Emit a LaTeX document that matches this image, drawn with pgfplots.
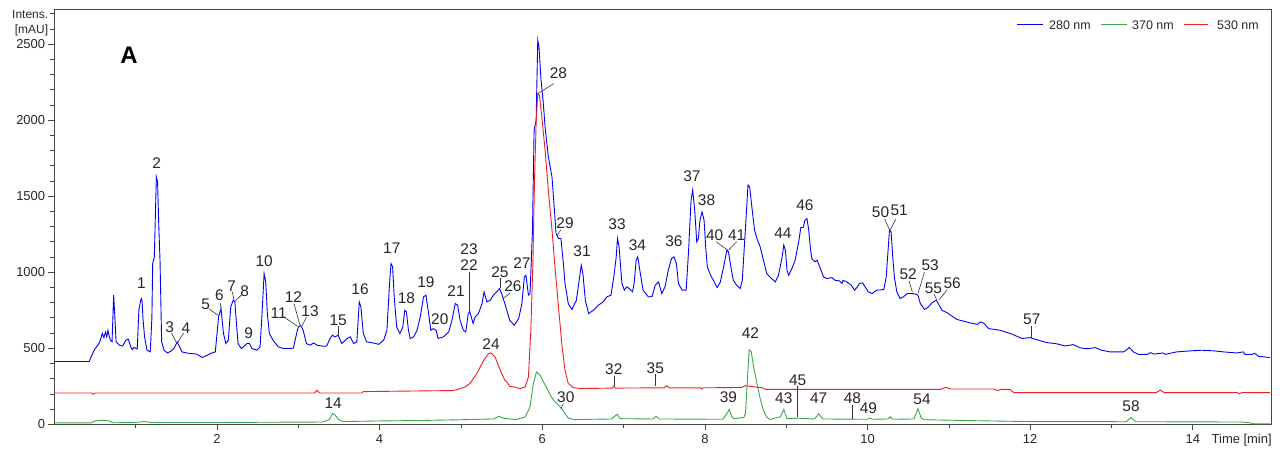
\documentclass[border=0pt]{standalone}
\usepackage{fontspec}
\setmainfont{Liberation Sans}
\usepackage{pgfplots}
\pgfplotsset{compat=1.18}
\definecolor{cblue}{RGB}{0,0,255}
\definecolor{cgreen}{RGB}{56,168,72}
\definecolor{cred}{RGB}{240,30,30}
\definecolor{framecol}{RGB}{70,70,70}
\newcommand{\pkfont}{\fontsize{15.5}{15.5}\selectfont}
\newcommand{\pk}[3]{\node[font=\pkfont, inner sep=0pt, text=black!85] at (axis cs:#1,#2) {#3};}
\newcommand{\ld}[4]{\draw[black!80, line width=0.6bp] (axis cs:#1,#2) -- (axis cs:#3,#4);}
\begin{document}
\begin{tikzpicture}
\begin{axis}[
  scale only axis, width=1217.4bp, height=415bp,
  xmin=0, xmax=14.97, ymin=0, ymax=2729,
  axis line style={framecol, line width=0.8bp},
  xtick={2,4,...,14}, minor xtick={1,3,...,13},
  ytick={0,500,...,2500}, minor ytick={100,200,...,2700},
  tick align=outside, xtick pos=lower, ytick pos=left,
  major tick length=6bp, minor tick length=4bp,
  tick style={framecol, line width=0.7bp},
  /pgf/number format/assume math mode=true,
  /pgf/number format/1000 sep={},
  ticklabel style={font=\fontsize{13}{13}\selectfont, text=black!85},
  xticklabel style={inner sep=0pt, anchor=north, yshift=-4bp},
  yticklabel style={inner sep=0pt, anchor=east, xshift=-3bp},
  clip=false,
]
\addplot[draw=cblue, line width=0.9bp] coordinates {
(0,413) (0.43,413) (0.45,440) (0.49,487) (0.52,510) (0.55,531) (0.57,560) (0.59,597) (0.61,570) (0.63,607) (0.645,575) (0.66,618) (0.675,580) (0.69,553) (0.71,542) (0.73,849) (0.745,700) (0.76,542) (0.80,520) (0.84,515) (0.88,553) (0.91,560) (0.94,509) (0.96,491) (0.98,505) (1.00,500) (1.02,495) (1.04,750) (1.06,810) (1.07,827) (1.08,810) (1.09,700) (1.11,574) (1.14,487) (1.18,476) (1.20,700) (1.21,1057) (1.23,1100) (1.255,1627) (1.27,1594) (1.285,1300) (1.30,1079) (1.32,542) (1.35,487) (1.39,469) (1.43,480) (1.47,498) (1.505,535) (1.51,542) (1.54,510) (1.57,476) (1.62,470) (1.68,465) (1.75,462) (1.82,439) (1.88,454) (1.92,466) (1.98,476) (2.02,706) (2.05,761) (2.08,597) (2.11,531) (2.14,553) (2.17,772) (2.20,816) (2.22,805) (2.24,663) (2.26,531) (2.30,498) (2.37,531) (2.40,531) (2.43,498) (2.49,487) (2.53,509) (2.55,684) (2.58,991) (2.60,936) (2.62,728) (2.645,597) (2.69,553) (2.755,509) (2.82,498) (2.94,500) (2.97,575) (3.00,640) (3.03,651) (3.06,618) (3.10,531) (3.145,520) (3.19,535) (3.23,520) (3.31,513) (3.35,515) (3.39,564) (3.42,586) (3.45,575) (3.49,586) (3.535,531) (3.60,564) (3.64,575) (3.68,531) (3.72,542) (3.75,805) (3.77,772) (3.80,597) (3.84,542) (3.92,535) (3.99,526) (4.05,553) (4.09,618) (4.12,904) (4.14,1057) (4.16,1035) (4.18,838) (4.21,640) (4.25,597) (4.285,640) (4.31,750) (4.33,739) (4.355,618) (4.375,564) (4.42,575) (4.46,618) (4.50,706) (4.54,838) (4.57,849) (4.60,739) (4.63,618) (4.66,629) (4.695,618) (4.72,564) (4.785,575) (4.85,607) (4.89,684) (4.93,794) (4.96,783) (4.99,684) (5.03,618) (5.06,607) (5.09,728) (5.11,739) (5.15,663) (5.175,706) (5.215,728) (5.26,794) (5.285,871) (5.32,805) (5.36,816) (5.40,849) (5.44,871) (5.475,893) (5.50,860) (5.54,794) (5.60,684) (5.655,651) (5.71,695) (5.75,794) (5.78,969) (5.80,980) (5.83,849) (5.85,860) (5.88,1276) (5.90,1934) (5.925,2000) (5.945,2527) (5.96,2483) (5.985,2264) (6.01,2132) (6.035,1956) (6.075,1759) (6.12,1627) (6.15,1408) (6.17,1255) (6.20,1222) (6.23,1222) (6.26,1057) (6.28,926) (6.32,794) (6.365,755) (6.42,816) (6.46,969) (6.48,1046) (6.50,991) (6.53,816) (6.57,728) (6.63,750) (6.69,783) (6.75,805) (6.795,838) (6.845,849) (6.88,969) (6.91,1101) (6.925,1222) (6.945,1167) (6.98,926) (7.01,882) (7.04,904) (7.07,893) (7.11,871) (7.13,926) (7.155,1079) (7.175,1101) (7.20,1013) (7.24,882) (7.305,838) (7.35,840) (7.39,915) (7.43,936) (7.47,860) (7.51,904) (7.55,1013) (7.59,1090) (7.62,1101) (7.65,1057) (7.675,926) (7.72,882) (7.77,882) (7.80,1145) (7.83,1474) (7.85,1540) (7.875,1408) (7.90,1200) (7.92,1222) (7.94,1342) (7.965,1397) (7.99,1342) (8.01,1167) (8.03,1035) (8.07,980) (8.105,947) (8.15,899) (8.19,936) (8.23,1035) (8.27,1145) (8.29,1134) (8.32,1035) (8.35,947) (8.39,915) (8.435,893) (8.46,947) (8.50,1298) (8.53,1573) (8.55,1562) (8.58,1419) (8.61,1277) (8.64,1222) (8.68,1167) (8.72,1079) (8.76,991) (8.80,969) (8.865,936) (8.905,980) (8.95,1101) (8.97,1178) (8.99,1145) (9.01,1013) (9.03,980) (9.07,1024) (9.11,1079) (9.15,1189) (9.18,1294) (9.21,1294) (9.23,1342) (9.255,1353) (9.275,1287) (9.30,1145) (9.315,1090) (9.355,1068) (9.38,1079) (9.42,1024) (9.46,969) (9.50,958) (9.56,965) (9.60,947) (9.655,943) (9.685,926) (9.70,947) (9.745,936) (9.80,915) (9.84,882) (9.87,899) (9.90,926) (9.94,930) (9.97,904) (10.01,871) (10.055,860) (10.115,882) (10.20,886) (10.23,969) (10.25,1123) (10.27,1277) (10.29,1266) (10.31,1101) (10.33,969) (10.36,871) (10.40,827) (10.44,838) (10.49,860) (10.55,860) (10.59,856) (10.62,849) (10.65,794) (10.70,755) (10.75,772) (10.79,798) (10.845,816) (10.87,794) (10.915,750) (10.98,733) (11.04,711) (11.10,689) (11.14,684) (11.27,666) (11.35,657) (11.39,673) (11.43,665) (11.49,629) (11.635,618) (11.78,592) (11.90,564) (12.00,570) (12.10,553) (12.21,537) (12.33,529) (12.43,515) (12.53,524) (12.62,502) (12.70,497) (12.80,504) (12.88,487) (12.98,476) (13.15,476) (13.19,491) (13.22,505) (13.27,476) (13.33,460) (13.44,460) (13.48,471) (13.52,462) (13.64,469) (13.66,460) (13.80,476) (13.97,483) (14.11,487) (14.26,483) (14.38,476) (14.54,469) (14.62,476) (14.64,460) (14.73,460) (14.76,467) (14.81,447) (14.95,439)
};
\addplot[draw=cgreen, line width=0.9bp] coordinates {
(0,9) (0.45,9) (0.50,22) (0.60,26) (0.68,22) (0.72,10) (1.0,12) (1.1,18) (1.2,12) (2.0,12) (3.3,15) (3.38,30) (3.42,70) (3.45,62) (3.50,30) (3.55,18) (4.0,22) (4.5,25) (5.0,30) (5.4,35) (5.47,53) (5.52,40) (5.68,31) (5.79,48) (5.85,114) (5.89,268) (5.93,344) (5.975,322) (6.015,279) (6.06,235) (6.10,191) (6.14,158) (6.20,125) (6.24,103) (6.28,70) (6.32,42) (6.385,31) (6.85,35) (6.92,66) (6.96,37) (7.36,35) (7.40,52) (7.44,35) (8.22,33) (8.27,70) (8.30,97) (8.33,50) (8.36,37) (8.48,45) (8.50,75) (8.52,268) (8.545,491) (8.57,477) (8.60,377) (8.64,268) (8.68,169) (8.72,92) (8.76,48) (8.80,31) (8.93,50) (8.97,97) (9.01,37) (9.15,40) (9.35,35) (9.40,70) (9.45,35) (10.0,33) (10.03,42) (10.06,33) (10.25,35) (10.28,50) (10.31,33) (10.57,35) (10.62,103) (10.66,40) (10.70,30) (11.5,22) (12.0,18) (13.18,17) (13.24,44) (13.30,17) (14.60,15) (14.70,10) (14.75,3) (14.95,3)
};
\addplot[draw=cred, line width=0.9bp] coordinates {
(0,206) (0.46,206) (0.48,198) (0.50,206) (3.20,206) (3.23,224) (3.26,206) (3.78,206) (3.80,215) (4.9,222) (4.95,228) (5.05,245) (5.11,268) (5.195,333) (5.28,421) (5.34,465) (5.37,469) (5.42,443) (5.48,360) (5.54,290) (5.565,279) (5.60,250) (5.645,246) (5.73,235) (5.79,246) (5.83,311) (5.86,619) (5.885,1057) (5.905,1606) (5.925,1979) (5.945,2176) (5.965,2165) (5.995,2022) (6.035,1803) (6.075,1540) (6.12,1277) (6.16,1013) (6.20,772) (6.24,531) (6.28,355) (6.32,268) (6.385,241) (6.47,235) (6.86,238) (6.88,250) (6.90,238) (7.50,240) (7.53,254) (7.56,240) (7.95,240) (7.96,232) (7.98,240) (8.45,242) (8.50,254) (8.55,250) (8.70,240) (8.75,230) (10.90,230) (10.96,243) (11.02,232) (11.55,232) (11.60,222) (11.64,230) (11.75,230) (11.80,208) (13.55,208) (13.60,225) (13.65,208) (14.55,208) (14.57,200) (14.60,208) (14.95,208)
};
% peak labels
\pk{1.07}{926}{1} \pk{1.26}{1719}{2} \pk{1.42}{640}{3} \pk{1.62}{634}{4}
\pk{1.86}{788}{5} \pk{2.03}{849}{6} \pk{2.18}{910}{7} \pk{2.34}{875}{8}
\pk{2.39}{597}{9} \pk{2.58}{1075}{10} \pk{2.76}{732}{11} \pk{2.94}{834}{12}
\pk{3.145}{746}{13} \pk{3.43}{136}{14} \pk{3.49}{684}{15} \pk{3.76}{888}{16}
\pk{4.15}{1156}{17} \pk{4.33}{831}{18} \pk{4.57}{932}{19} \pk{4.74}{691}{20}
\pk{4.94}{877}{21} \pk{5.10}{1046}{22} \pk{5.10}{1149}{23} \pk{5.37}{526}{24}
\pk{5.48}{1002}{25} \pk{5.64}{908}{26} \pk{5.75}{1057}{27} \pk{6.20}{2307}{28}
\pk{6.28}{1321}{29} \pk{6.29}{180}{30} \pk{6.49}{1141}{31} \pk{6.88}{360}{32}
\pk{6.92}{1316}{33} \pk{7.17}{1178}{34} \pk{7.39}{370}{35} \pk{7.62}{1206}{36}
\pk{7.84}{1632}{37} \pk{8.02}{1474}{38} \pk{8.29}{176}{39} \pk{8.12}{1244}{40}
\pk{8.39}{1244}{41} \pk{8.56}{597}{42} \pk{8.97}{169}{43} \pk{8.96}{1259}{44}
\pk{9.14}{290}{45} \pk{9.23}{1441}{46} \pk{9.40}{169}{47} \pk{9.815}{169}{48}
\pk{10.01}{107}{49} \pk{10.16}{1397}{50} \pk{10.39}{1408}{51} \pk{10.50}{987}{52}
\pk{10.77}{1046}{53} \pk{10.67}{162}{54} \pk{10.81}{893}{55} \pk{11.04}{930}{56}
\pk{12.02}{691}{57} \pk{13.24}{118}{58}
% leader lines
\ld{1.44}{600}{1.50}{540} \ld{1.59}{600}{1.52}{540}
\ld{1.90}{760}{2.02}{715} \ld{2.04}{800}{2.05}{765}
\ld{2.19}{870}{2.21}{815} \ld{2.30}{850}{2.22}{808}
\ld{2.84}{700}{2.99}{645} \ld{2.95}{790}{3.02}{652} \ld{3.10}{705}{3.05}{650}
\ld{3.49}{645}{3.49}{586} \ld{5.10}{1000}{5.10}{739} \ld{5.48}{960}{5.48}{893}
\ld{5.61}{865}{5.52}{827} \ld{6.14}{2240}{5.95}{2176} \ld{6.23}{1280}{6.18}{1240}
\ld{6.26}{135}{6.23}{103} \ld{6.88}{320}{6.88}{250} \ld{7.39}{330}{7.39}{250}
\ld{8.14}{1200}{8.28}{1145} \ld{8.39}{1200}{8.29}{1145}
\ld{9.14}{250}{9.14}{48} \ld{9.815}{125}{9.815}{37}
\ld{10.21}{1350}{10.27}{1280} \ld{10.35}{1350}{10.28}{1280}
\ld{10.51}{945}{10.55}{871} \ld{10.70}{1000}{10.62}{860}
\ld{10.82}{855}{10.85}{820} \ld{10.98}{885}{10.88}{818}
\ld{12.01}{645}{12.01}{570}
% panel letter
\node[font=\fontsize{24}{24}\selectfont\bfseries] at (axis cs:0.92,2428) {A};
% axis titles
\node[anchor=north east, align=right, inner sep=0pt, font=\fontsize{12}{15}\selectfont, text=black!85] at ([xshift=-6bp,yshift=-0.5bp]rel axis cs:0,1) {Intens.\\{}[mAU]};
\node[anchor=base west, inner sep=0pt, font=\fontsize{13}{13}\selectfont, text=black!85] at ([yshift=-19bp]axis cs:14.23,0) {Time [min]};
\end{axis}
% legend (axis south west is at the origin)
\draw[draw=cblue, line width=1bp] (962.7bp,399.3bp) -- (988.7bp,399.3bp);
\node[anchor=west, inner sep=0pt, font=\fontsize{12.5}{12.5}\selectfont, text=black!85] at (994.7bp,399.3bp) {280 nm};
\draw[draw=cgreen, line width=1bp] (1046.7bp,399.3bp) -- (1072.7bp,399.3bp);
\node[anchor=west, inner sep=0pt, font=\fontsize{12.5}{12.5}\selectfont, text=black!85] at (1077.7bp,399.3bp) {370 nm};
\draw[draw=cred, line width=1bp] (1129.7bp,399.3bp) -- (1153.7bp,399.3bp);
\node[anchor=west, inner sep=0pt, font=\fontsize{12.5}{12.5}\selectfont, text=black!85] at (1162.7bp,399.3bp) {530 nm};
\pgfresetboundingbox
\path (-54.3bp,-25.7bp) rectangle (1227.7bp,424.3bp);
\end{tikzpicture}
\end{document}
